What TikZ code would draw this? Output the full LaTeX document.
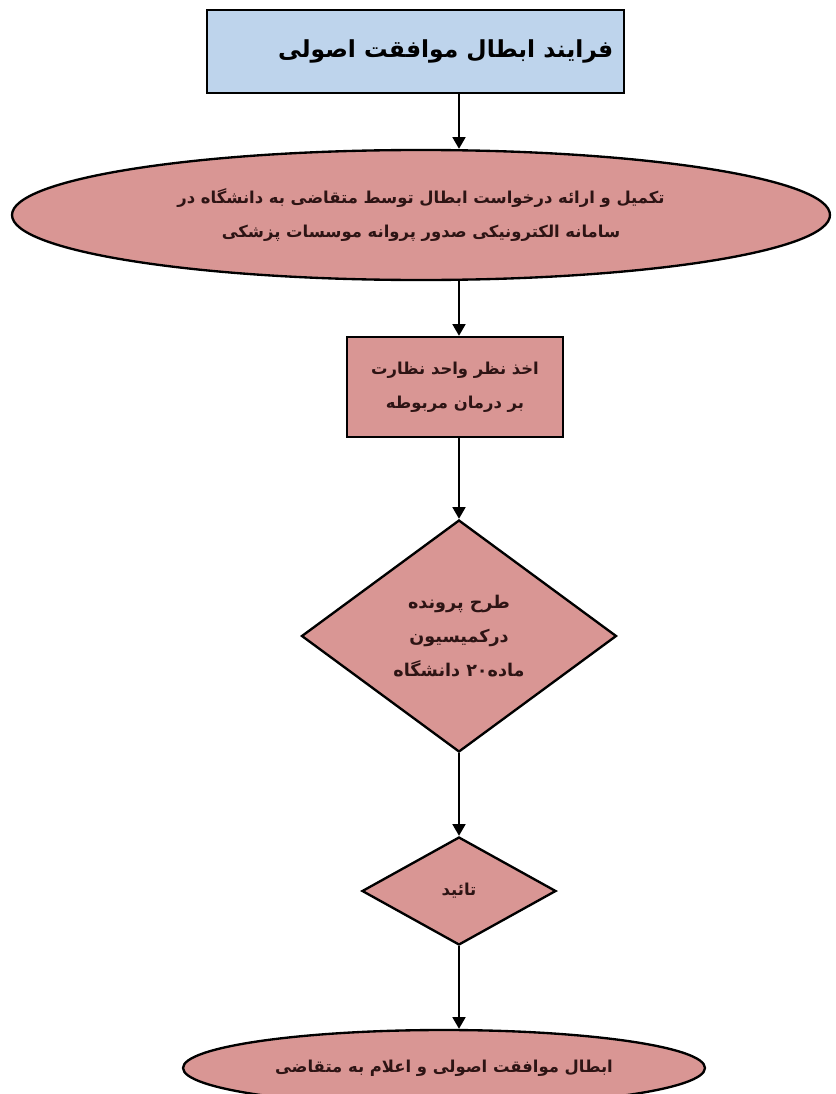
\documentclass[tikz,border=0pt]{standalone}
\usepackage{fontspec}
\newfontfamily\arabicfont[Script=Arabic]{DejaVu Sans}
\TeXXeTstate=1
\usetikzlibrary{shapes.geometric,arrows.meta}
\definecolor{shapepink}{RGB}{217,150,148}
\definecolor{titleblue}{RGB}{190,212,236}
\definecolor{inkdark}{RGB}{45,20,20}
\begin{document}
\begin{tikzpicture}[line width=2pt,
    every node/.style={draw,fill=shapepink,align=center,inner sep=2pt,text=inkdark,
      font=\arabicfont\bfseries\fontsize{14}{29}\selectfont},
    flow/.style={-{Triangle[width=11pt,length=10pt]},line width=1.8pt}]
  \useasboundingbox (0,0) rectangle (25.05,-32.82);
  \node (title)      at (12.47,-1.55)  [fill=titleblue,text=black,minimum width=12.51cm,minimum height=2.49cm,
                                         font=\arabicfont\bfseries\fontsize{20}{30}\selectfont]
                                        {\hspace{1.8cm}\beginR فرایند ابطال موافقت اصولی\endR};
  \node (request)    at (12.63,-6.45)  [ellipse,minimum width=24.54cm,minimum height=3.9cm]
                                        {\beginR تکمیل و ارائه درخواست ابطال توسط متقاضی به دانشگاه در\endR\\
                                         \beginR سامانه الکترونیکی صدور پروانه موسسات پزشکی\endR};
  \node (opinion)    at (13.65,-11.61) [minimum width=6.48cm,minimum height=3cm]
                                        {\beginR اخذ نظر واحد نظارت\endR\\ \beginR بر درمان مربوطه\endR};
  \node (commission) at (13.77,-19.08) [diamond,minimum width=9.45cm,minimum height=6.96cm,
                                         font=\arabicfont\bfseries\fontsize{15}{29}\selectfont]
                                        {\beginR طرح پرونده\endR\\ \beginR درکمیسیون\endR\\
                                         \beginR ماده\beginL ۲۰\endL{} دانشگاه\endR};
  \node (approval)   at (13.77,-26.73) [diamond,minimum width=5.82cm,minimum height=3.24cm]
                                        {\beginR تائید\endR};
  \node (cancel)     at (13.32,-32.04) [ellipse,minimum width=15.66cm,minimum height=2.28cm]
                                        {\beginR ابطال موافقت اصولی و اعلام به متقاضی\endR};

  \coordinate (spine) at (13.77,0);
  \draw[flow] (title.south -| spine) -- (request.north -| spine);
  \draw[flow] (request.south -| spine) -- (opinion.north -| spine);
  \draw[flow] (opinion.south -| spine) -- (commission.north);
  \draw[flow] (commission.south) -- (approval.north);
  \draw[flow] (approval.south) -- (cancel.north -| spine);
\end{tikzpicture}
\end{document}
